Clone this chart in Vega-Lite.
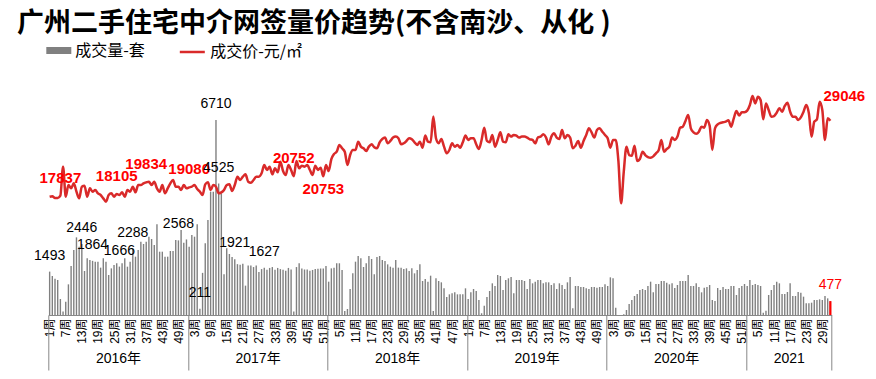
{
"$schema":"https://vega.github.io/schema/vega-lite/v6.json",
"width":783.4,"height":225,
"autosize":{"type":"none"},
"padding":{"left":48.3,"top":90,"right":44.3,"bottom":64},
"title":{"text":"广州二手住宅中介网签量价趋势(不含南沙、从化 )","anchor":"start","dx":-17,"offset":0,"fontSize":27,"fontWeight":"bold","font":"Noto Sans CJK SC","color":"#000000"},
"config":{"view":{"stroke":null},"axis":{"grid":false}},
"data":{"values":[
{"i":0,"v":1493,"p":17690},{"i":1,"v":1342,"p":17760},{"i":2,"v":1250,"p":17490},{"i":3,"v":1204,"p":17490},{"i":4,"v":550,"p":17837},{"i":5,"v":120,"p":22180},{"i":6,"v":460,"p":17690},{"i":7,"v":1055,"p":19435},{"i":8,"v":1686,"p":18935},{"i":9,"v":2237,"p":19685},
{"i":10,"v":2672,"p":18440},{"i":11,"v":2350,"p":17440},{"i":12,"v":2446,"p":19185},{"i":13,"v":1514,"p":19335},{"i":14,"v":1950,"p":17690},{"i":15,"v":1890,"p":18935},{"i":16,"v":1864,"p":18440},{"i":17,"v":1835,"p":18690},{"i":18,"v":1835,"p":18190},{"i":19,"v":1630,"p":17940},
{"i":20,"v":1950,"p":17440},{"i":21,"v":1835,"p":16940},{"i":22,"v":1376,"p":17940},{"i":23,"v":1605,"p":18190},{"i":24,"v":1720,"p":17690},{"i":25,"v":1780,"p":18105},{"i":26,"v":1666,"p":17940},{"i":27,"v":1780,"p":18340},{"i":28,"v":1950,"p":17690},{"i":29,"v":1663,"p":18690},
{"i":30,"v":1835,"p":18440},{"i":31,"v":2288,"p":19185},{"i":32,"v":2007,"p":18340},{"i":33,"v":2237,"p":19435},{"i":34,"v":2523,"p":19435},{"i":35,"v":2443,"p":19685},{"i":36,"v":2523,"p":19834},{"i":37,"v":2695,"p":19935},{"i":38,"v":2615,"p":19435},{"i":39,"v":2409,"p":19935},
{"i":40,"v":3120,"p":18935},{"i":41,"v":2179,"p":18440},{"i":42,"v":2179,"p":19435},{"i":43,"v":2007,"p":18190},{"i":44,"v":2007,"p":18935},{"i":45,"v":2202,"p":19685},{"i":46,"v":2202,"p":20180},{"i":47,"v":2580,"p":19185},{"i":48,"v":2568,"p":19185},{"i":49,"v":2925,"p":18690},
{"i":50,"v":2489,"p":19435},{"i":51,"v":2600,"p":18935},
{"i":52,"v":2351,"p":19080},{"i":53,"v":2753,"p":19185},{"i":54,"v":2695,"p":19435},{"i":55,"v":3120,"p":18840},{"i":56,"v":211,"p":18440},{"i":57,"v":1450,"p":17940},{"i":58,"v":2466,"p":19535},{"i":59,"v":3269,"p":19835},{"i":60,"v":4244,"p":18690},{"i":61,"v":4244,"p":19435},
{"i":62,"v":6710,"p":19185},{"i":63,"v":4525,"p":18190},{"i":64,"v":4187,"p":18340},{"i":65,"v":1400,"p":18690},{"i":66,"v":2300,"p":19435},{"i":67,"v":2100,"p":19535},{"i":68,"v":2000,"p":18540},{"i":69,"v":1921,"p":19435},{"i":70,"v":1750,"p":20680},{"i":71,"v":1730,"p":20180},
{"i":72,"v":1760,"p":20680},{"i":73,"v":1010,"p":21030},{"i":74,"v":1700,"p":19935},{"i":75,"v":1700,"p":19785},{"i":76,"v":1650,"p":20180},{"i":77,"v":1700,"p":20680},{"i":78,"v":1480,"p":20680},{"i":79,"v":1580,"p":21180},{"i":80,"v":1627,"p":22420},{"i":81,"v":1560,"p":21680},
{"i":82,"v":1620,"p":22180},{"i":83,"v":1650,"p":21030},{"i":84,"v":1560,"p":21930},{"i":85,"v":1620,"p":21330},{"i":86,"v":1580,"p":22925},{"i":87,"v":1560,"p":21530},{"i":88,"v":1520,"p":20930},{"i":89,"v":1620,"p":22420},{"i":90,"v":1570,"p":21680},{"i":91,"v":120,"p":20752},
{"i":92,"v":1650,"p":23020},{"i":93,"v":1780,"p":21930},{"i":94,"v":1600,"p":22330},{"i":95,"v":1570,"p":22180},{"i":96,"v":1570,"p":22420},{"i":97,"v":1520,"p":21680},{"i":98,"v":1550,"p":20930},{"i":99,"v":1580,"p":22330},{"i":100,"v":1590,"p":21680},{"i":101,"v":1600,"p":22030},
{"i":102,"v":1600,"p":20753},{"i":103,"v":1686,"p":22420},
{"i":104,"v":1147,"p":21530},{"i":105,"v":1605,"p":23320},{"i":106,"v":1630,"p":24070},{"i":107,"v":1780,"p":24420},{"i":108,"v":1780,"p":25420},{"i":109,"v":1550,"p":24920},{"i":110,"v":138,"p":24420},{"i":111,"v":206,"p":22420},{"i":112,"v":895,"p":23920},{"i":113,"v":1434,"p":24670},
{"i":114,"v":1835,"p":24670},{"i":115,"v":2030,"p":25920},{"i":116,"v":1950,"p":25170},{"i":117,"v":1652,"p":24920},{"i":118,"v":1780,"p":24520},{"i":119,"v":2030,"p":25170},{"i":120,"v":1927,"p":25520},{"i":121,"v":1400,"p":25070},{"i":122,"v":1996,"p":24920},{"i":123,"v":2030,"p":25820},
{"i":124,"v":1893,"p":26320},{"i":125,"v":1858,"p":26520},{"i":126,"v":1743,"p":25670},{"i":127,"v":1663,"p":26020},{"i":128,"v":1630,"p":26520},{"i":129,"v":1893,"p":26670},{"i":130,"v":1630,"p":26420},{"i":131,"v":1630,"p":25520},{"i":132,"v":1583,"p":25670},{"i":133,"v":1606,"p":26020},
{"i":134,"v":1514,"p":26420},{"i":135,"v":1606,"p":26270},{"i":136,"v":1434,"p":25820},{"i":137,"v":1548,"p":25420},{"i":138,"v":1743,"p":25920},{"i":139,"v":1170,"p":25020},{"i":140,"v":1239,"p":26820},{"i":141,"v":1147,"p":25920},{"i":142,"v":1353,"p":25820},{"i":143,"v":138,"p":29660},
{"i":144,"v":1262,"p":26420},{"i":145,"v":1170,"p":25670},{"i":146,"v":1124,"p":26320},{"i":147,"v":918,"p":25170},{"i":148,"v":619,"p":24170},{"i":149,"v":711,"p":24670},{"i":150,"v":745,"p":25670},{"i":151,"v":780,"p":25170},{"i":152,"v":711,"p":25420},{"i":153,"v":711,"p":25020},
{"i":154,"v":711,"p":25820},{"i":155,"v":918,"p":26820},
{"i":156,"v":550,"p":26170},{"i":157,"v":780,"p":26420},{"i":158,"v":895,"p":26420},{"i":159,"v":826,"p":25520},{"i":160,"v":516,"p":24820},{"i":161,"v":60,"p":26170},{"i":162,"v":321,"p":28010},{"i":163,"v":619,"p":26020},{"i":164,"v":826,"p":25820},{"i":165,"v":1090,"p":26920},
{"i":166,"v":998,"p":25170},{"i":167,"v":1376,"p":26170},{"i":168,"v":1342,"p":27310},{"i":169,"v":860,"p":25920},{"i":170,"v":1204,"p":25820},{"i":171,"v":1262,"p":27010},{"i":172,"v":1308,"p":26670},{"i":173,"v":745,"p":26920},{"i":174,"v":1204,"p":26820},{"i":175,"v":1204,"p":26520},
{"i":176,"v":1204,"p":26670},{"i":177,"v":1170,"p":26670},{"i":178,"v":895,"p":26520},{"i":179,"v":1239,"p":26270},{"i":180,"v":1090,"p":26170},{"i":181,"v":1147,"p":25670},{"i":182,"v":1204,"p":26570},{"i":183,"v":1204,"p":26670},{"i":184,"v":1090,"p":27010},{"i":185,"v":1124,"p":26570},
{"i":186,"v":1124,"p":25520},{"i":187,"v":1032,"p":26670},{"i":188,"v":1090,"p":27160},{"i":189,"v":895,"p":26520},{"i":190,"v":1090,"p":26320},{"i":191,"v":1032,"p":27660},{"i":192,"v":895,"p":26420},{"i":193,"v":1124,"p":26920},{"i":194,"v":1308,"p":26520},{"i":195,"v":229,"p":24920},
{"i":196,"v":998,"p":25320},{"i":197,"v":998,"p":26020},{"i":198,"v":963,"p":25020},{"i":199,"v":963,"p":26020},{"i":200,"v":918,"p":26920},{"i":201,"v":895,"p":27910},{"i":202,"v":963,"p":27310},{"i":203,"v":963,"p":26520},{"i":204,"v":940,"p":27660},{"i":205,"v":963,"p":27910},
{"i":206,"v":963,"p":27410},{"i":207,"v":1055,"p":26920},
{"i":208,"v":998,"p":26420},{"i":209,"v":1296,"p":25020},{"i":210,"v":1262,"p":26170},{"i":211,"v":252,"p":26170},{"i":212,"v":0,"p":23020},{"i":213,"v":0,"p":16690},{"i":214,"v":23,"p":21420},{"i":215,"v":172,"p":25170},{"i":216,"v":378,"p":23920},{"i":217,"v":516,"p":23820},
{"i":218,"v":654,"p":25320},{"i":219,"v":723,"p":23020},{"i":220,"v":860,"p":23320},{"i":221,"v":895,"p":24420},{"i":222,"v":860,"p":23920},{"i":223,"v":998,"p":23620},{"i":224,"v":1147,"p":23520},{"i":225,"v":780,"p":23720},{"i":226,"v":1067,"p":24170},{"i":227,"v":1067,"p":24620},
{"i":228,"v":1170,"p":26170},{"i":229,"v":1170,"p":24420},{"i":230,"v":1113,"p":24820},{"i":231,"v":1055,"p":25170},{"i":232,"v":1090,"p":26520},{"i":233,"v":929,"p":26170},{"i":234,"v":1032,"p":26670},{"i":235,"v":1170,"p":28010},{"i":236,"v":1170,"p":28160},{"i":237,"v":1170,"p":29010},
{"i":238,"v":1376,"p":29910},{"i":239,"v":998,"p":27910},{"i":240,"v":998,"p":27310},{"i":241,"v":1090,"p":27110},{"i":242,"v":963,"p":27410},{"i":243,"v":780,"p":28160},{"i":244,"v":940,"p":28010},{"i":245,"v":963,"p":29160},{"i":246,"v":1032,"p":28310},{"i":247,"v":516,"p":24670},
{"i":248,"v":482,"p":27910},{"i":249,"v":929,"p":28510},{"i":250,"v":860,"p":28710},{"i":251,"v":963,"p":28810},{"i":252,"v":895,"p":28910},{"i":253,"v":895,"p":29110},{"i":254,"v":998,"p":28160},{"i":255,"v":998,"p":29410},{"i":256,"v":688,"p":30500},{"i":257,"v":929,"p":29810},
{"i":258,"v":998,"p":30310},{"i":259,"v":1067,"p":30310},
{"i":260,"v":998,"p":30550},{"i":261,"v":1204,"p":31400},{"i":262,"v":1032,"p":32740},{"i":263,"v":1067,"p":31640},{"i":264,"v":1032,"p":32640},{"i":265,"v":998,"p":32140},{"i":266,"v":80,"p":29250},{"i":267,"v":149,"p":31640},{"i":268,"v":688,"p":30650},{"i":269,"v":860,"p":29650},
{"i":270,"v":1032,"p":29750},{"i":271,"v":1147,"p":30250},{"i":272,"v":1090,"p":30900},{"i":273,"v":723,"p":30400},{"i":274,"v":723,"p":31250},{"i":275,"v":791,"p":31750},{"i":276,"v":1090,"p":30400},{"i":277,"v":654,"p":29650},{"i":278,"v":654,"p":29650},{"i":279,"v":791,"p":29150},
{"i":280,"v":768,"p":29550},{"i":281,"v":631,"p":30400},{"i":282,"v":401,"p":31400},{"i":283,"v":401,"p":30150},{"i":284,"v":424,"p":26660},{"i":285,"v":516,"p":28900},{"i":286,"v":516,"p":29250},{"i":287,"v":539,"p":31890},{"i":288,"v":516,"p":30650},{"i":289,"v":654,"p":26160},
{"i":290,"v":573,"p":29400},{"i":291,"v":477,"p":29046}
]},
"layer":[
{"mark":{"type":"bar","width":1.4},
 "encoding":{
  "x":{"field":"i","type":"quantitative","scale":{"domain":[-0.5,291.5],"nice":false,"zero":false,"padding":0},
   "axis":{"orient":"bottom","title":null,"values":[0,6,12,18,24,30,36,42,48,54,60,66,72,78,84,90,96,102,108,114,120,126,132,138,144,150,156,162,168,174,180,186,192,198,204,210,216,222,228,234,240,246,252,258,264,270,276,282,288],
    "labelExpr":"(datum.value % 52 + 1) + '周'","labelAngle":-90,"ticks":false,"domain":true,"domainColor":"#888888","labelFontSize":12,"labelFont":"Liberation Sans, Noto Sans CJK SC","labelColor":"#000000","labelPadding":3,"grid":false,"labelOverlap":false,"labelFlush":false}},
  "y":{"field":"v","type":"quantitative","scale":{"domain":[0,7743]},"axis":null},
  "fill":{"datum":"成交量-套","scale":{"range":["#808080"]},
   "legend":{"title":null,"orient":"none","legendX":-2,"legendY":-52,"symbolType":"M-1,-0.28H1V0.28H-1Z","symbolSize":625,"symbolStrokeWidth":0,"labelFontSize":16,"labelFont":"Noto Sans CJK SC","labelColor":"#000000"}}
 }},
{"mark":{"type":"line","interpolate":"monotone","strokeWidth":2.5},
 "encoding":{
  "x":{"field":"i","type":"quantitative","axis":{"orient":"bottom","title":null,"values":[-0.5,51.5,103.5,155.5,207.5,259.5,291.5],"labels":false,"domain":false,"ticks":true,"tickSize":55,"tickColor":"#888888","tickWidth":1,"grid":false}},
  "y":{"field":"p","type":"quantitative","scale":{"domain":[0,33640]},"axis":null},
  "stroke":{"datum":"成交价-元/㎡","scale":{"range":["#d92a2a"]},
   "legend":{"title":null,"orient":"none","legendX":130,"legendY":-52,"symbolType":"stroke","symbolSize":625,"symbolStrokeWidth":2.5,"labelFontSize":16,"labelFont":"Noto Sans CJK SC","labelColor":"#000000"}}
 }},
{"transform":[{"filter":"indexof([4,25,36,52,91], datum.i) >= 0"}],
 "mark":{"type":"text","dy":-13,"fontSize":15,"fontWeight":"bold","color":"#ff0000","baseline":"alphabetic","font":"Liberation Sans"},
 "encoding":{
  "x":{"field":"i","type":"quantitative","axis":{"orient":"bottom","title":null,"values":[25.5,77.5,129.5,181.5,233.5,275.5],"labelExpr":"datum.value < 270 ? (2016 + floor(datum.value / 52)) + '年' : '2021'","ticks":false,"domain":false,"labelPadding":36,"labelFontSize":14,"labelFont":"Liberation Sans, Noto Sans CJK SC","labelColor":"#000000","grid":false}},
  "y":{"field":"p","type":"quantitative","scale":{"domain":[0,33640]},"axis":null},
  "text":{"field":"p","type":"quantitative","format":"d"}
 }},
{"transform":[{"filter":"datum.i == 102"}],
 "mark":{"type":"text","dy":6,"fontSize":15,"fontWeight":"bold","color":"#ff0000","baseline":"top","font":"Liberation Sans"},
 "encoding":{
  "x":{"field":"i","type":"quantitative","axis":null},
  "y":{"field":"p","type":"quantitative","scale":{"domain":[0,33640]},"axis":null},
  "text":{"field":"p","type":"quantitative","format":"d"}
 }},
{"transform":[{"filter":"datum.i == 291"}],
 "mark":{"type":"text","dx":14,"dy":-20,"fontSize":15,"fontWeight":"bold","color":"#ff0000","baseline":"alphabetic","font":"Liberation Sans"},
 "encoding":{
  "x":{"field":"i","type":"quantitative","axis":null},
  "y":{"field":"p","type":"quantitative","scale":{"domain":[0,33640]},"axis":null},
  "text":{"field":"p","type":"quantitative","format":"d"}
 }},
{"transform":[{"filter":"datum.i == 291"}],
 "mark":{"type":"bar","width":2.2,"color":"#ff0000"},
 "encoding":{
  "x":{"field":"i","type":"quantitative","axis":null},
  "y":{"field":"v","type":"quantitative","scale":{"domain":[0,7743]},"axis":null}
 }},
{"transform":[{"filter":"indexof([0,12,16,26,31,48,56,62,63,69,80,291], datum.i) >= 0"}],
 "mark":{"type":"text","dy":-12,"fontSize":14,"baseline":"alphabetic","font":"Liberation Sans"},
 "encoding":{
  "x":{"field":"i","type":"quantitative","axis":null},
  "y":{"field":"v","type":"quantitative","scale":{"domain":[0,7743]},"axis":null},
  "text":{"field":"v","type":"quantitative","format":"d"},
  "color":{"condition":{"test":"datum.i == 291","value":"#ff0000"},"value":"#000000"}
 }}
],
"resolve":{"scale":{"y":"independent","fill":"independent","stroke":"independent"},"axis":{"x":"independent"}}
}
